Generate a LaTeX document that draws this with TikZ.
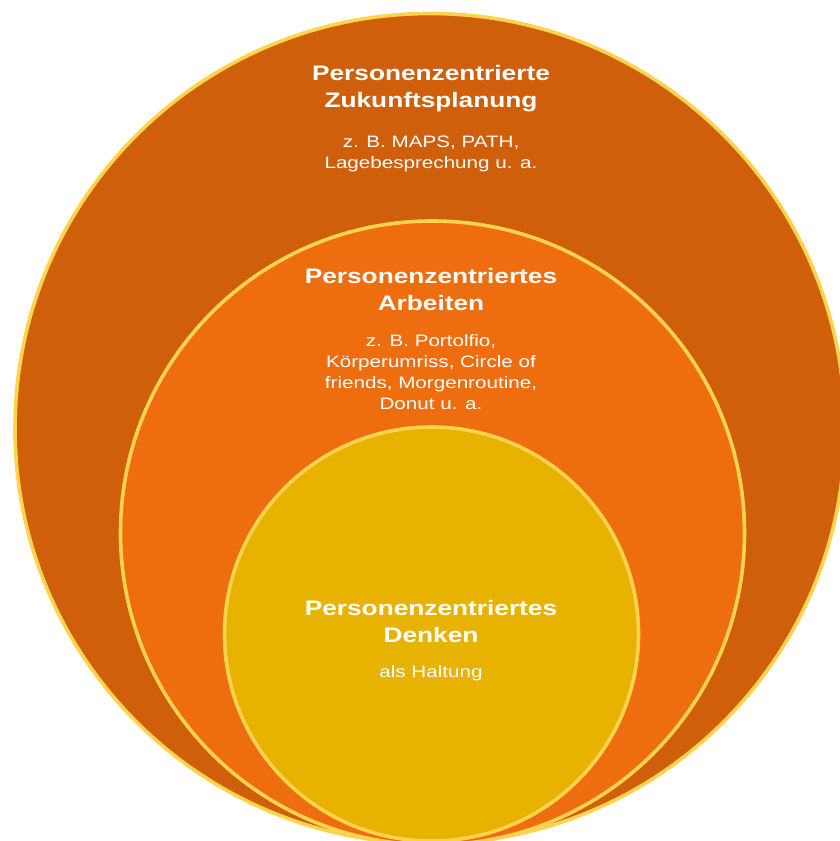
\documentclass[tikz,border=0pt]{standalone}
\usepackage{fontspec}
\newfontfamily\ringfont{Liberation Sans}[FakeStretch=1.25]
\definecolor{ringOuter}{HTML}{D05F0C}
\definecolor{ringMiddle}{HTML}{EE6E0F}
\definecolor{ringInner}{HTML}{E8B200}
\definecolor{ringEdge}{HTML}{FFD34E}

\begin{document}
\begin{tikzpicture}[x=1pt,y=-1pt,
  ring/.style={draw=ringEdge,line width=3.6pt},
  titletext/.style={anchor=base,inner sep=0pt,align=center,text=white,font=\ringfont\bfseries\fontsize{21}{27}\selectfont},
  bodytext/.style={anchor=base,inner sep=0pt,align=center,text=white,font=\ringfont\fontsize{16.5}{21}\selectfont}]
\useasboundingbox (0,0) rectangle (840,841);
\begin{scope}
\clip (0,0) rectangle (840,841);
%Shape: Circle outer
\draw [ring,fill=ringOuter] (430,428.5) circle (415);
%Shape: Circle middle
\draw [ring,fill=ringMiddle] (432.5,533) circle (312);
%Shape: Circle inner
\draw [ring,fill=ringInner] (431.5,634) circle (207);
\end{scope}

% Text Node (base = last line)
\node [titletext] (planTitle) at (431,107) {Personenzentrierte\\Zukunftsplanung};
% Text Node
\node [bodytext] (planBody) at (431,168) {z. B. MAPS, PATH,\\Lagebesprechung u. a.};
% Text Node
\node [titletext] (workTitle) at (431,310) {Personenzentriertes\\Arbeiten};
% Text Node
\node [bodytext] (workBody) at (431,409) {z. B. Portolfio,\\Körperumriss, Circle of\\friends, Morgenroutine,\\Donut u. a.};
% Text Node
\node [titletext] (thinkTitle) at (431,642) {Personenzentriertes\\Denken};
% Text Node
\node [bodytext] (thinkBody) at (431,677) {als Haltung};

\end{tikzpicture}
\end{document}
